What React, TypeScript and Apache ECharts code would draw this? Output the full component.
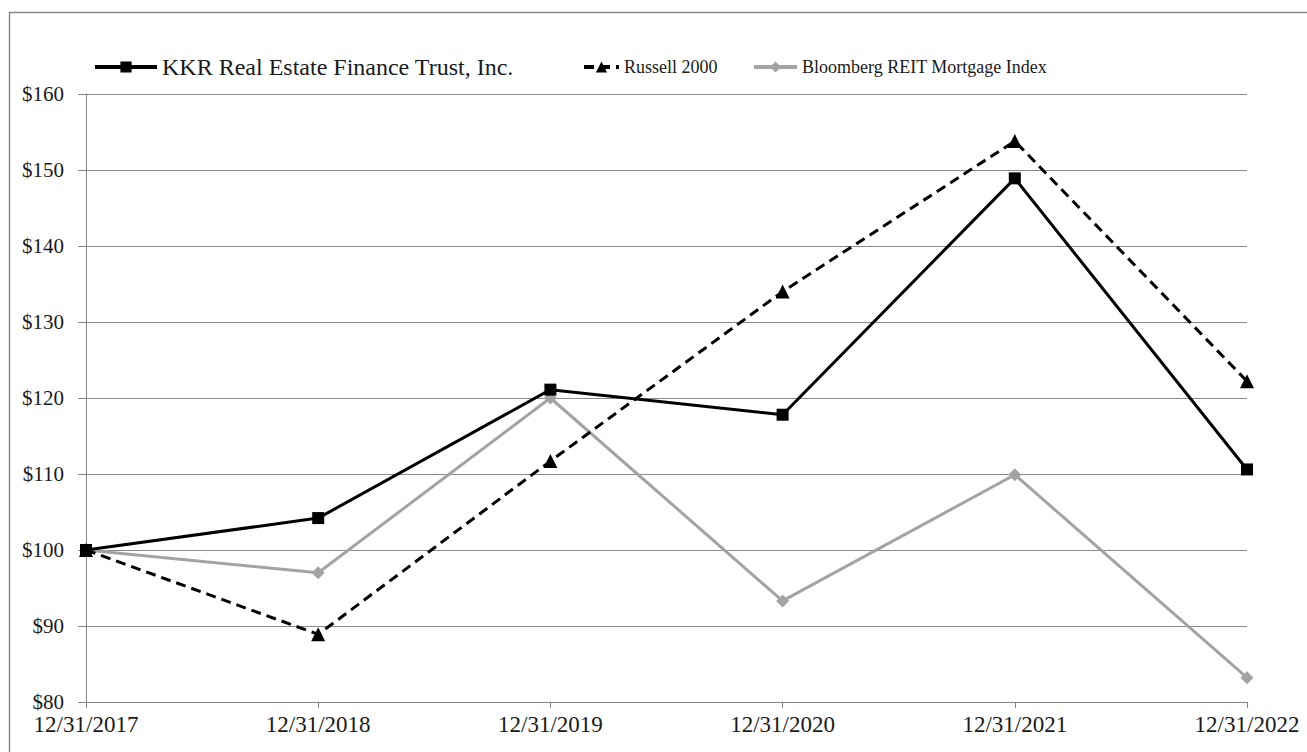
import React, { useEffect, useRef } from "react";
import * as echarts from "echarts";

const categories = ["12/31/2017", "12/31/2018", "12/31/2019", "12/31/2020", "12/31/2021", "12/31/2022"];
const kkrValues = [100, 104.2, 121.1, 117.8, 148.9, 110.6];
const russellValues = [100, 88.9, 111.7, 134.0, 153.8, 122.2];
const bloombergValues = [100, 97.0, 120.0, 93.3, 109.9, 83.2];
const seriesNames = ["KKR Real Estate Finance Trust, Inc.", "Russell 2000", "Bloomberg REIT Mortgage Index"];

const FONT = "Liberation Serif";

export default function App() {
  const ref = useRef<HTMLDivElement>(null);
  useEffect(() => {
    document.body.style.margin = "0";
    const chart = echarts.init(ref.current!, null, { renderer: "svg" });
    chart.setOption({
      animation: false,
      backgroundColor: "#ffffff",
      textStyle: { fontFamily: FONT },
      graphic: [
        {
          type: "rect",
          silent: true,
          shape: { x: 9.5, y: 12.5, width: 1400, height: 900 },
          style: { fill: "none", stroke: "#8a8a8a", lineWidth: 1.5 },
        },
      ],
      legend: [
        {
          data: [seriesNames[0]],
          left: 93,
          top: 55,
          padding: 0,
          itemGap: 0,
          itemWidth: 62,
          itemHeight: 14,
          selectedMode: false,
          lineStyle: { width: 4 },
          textStyle: { fontFamily: FONT, fontSize: 24, color: "#1a1a1a" },
        },
        {
          data: [seriesNames[1]],
          left: 582,
          top: 58,
          padding: 0,
          itemGap: 0,
          itemWidth: 35,
          itemHeight: 14,
          selectedMode: false,
          lineStyle: { width: 4 },
          textStyle: { fontFamily: FONT, fontSize: 18, color: "#1a1a1a" },
        },
        {
          data: [seriesNames[2]],
          left: 752,
          top: 58,
          padding: 0,
          itemGap: 0,
          itemWidth: 43,
          itemHeight: 14,
          selectedMode: false,
          lineStyle: { width: 4 },
          textStyle: { fontFamily: FONT, fontSize: 18, color: "#1a1a1a" },
        },
      ],
      grid: { left: 86, right: 60, top: 94, bottom: 50, containLabel: false },
      xAxis: {
        type: "category",
        data: categories,
        boundaryGap: false,
        axisLine: { lineStyle: { color: "#858585", width: 1 } },
        axisTick: { alignWithLabel: true, length: 6, lineStyle: { color: "#858585" } },
        axisLabel: { fontFamily: FONT, fontSize: 23, lineHeight: 22, color: "#1a1a1a", margin: 11, interval: 0 },
        splitLine: { show: false },
      },
      yAxis: {
        type: "value",
        min: 80,
        max: 160,
        interval: 10,
        axisLine: { show: true, lineStyle: { color: "#858585", width: 1 } },
        axisTick: { show: true, length: 8, lineStyle: { color: "#858585" } },
        axisLabel: {
          fontFamily: FONT,
          fontSize: 21,
          lineHeight: 20,
          color: "#1a1a1a",
          margin: 22,
          formatter: (v: number) => "$" + v,
        },
        splitLine: { show: true, lineStyle: { color: "#8a8a8a", width: 1 } },
      },
      series: [
        {
          name: seriesNames[0],
          type: "line",
          data: kkrValues,
          symbol: "rect",
          symbolSize: 12,
          lineStyle: { color: "#000000", width: 3 },
          itemStyle: { color: "#000000" },
          z: 3,
        },
        {
          name: seriesNames[1],
          type: "line",
          data: russellValues,
          symbol: "triangle",
          symbolSize: 14,
          lineStyle: { color: "#000000", width: 3, type: [10, 6] },
          itemStyle: { color: "#000000" },
          z: 4,
        },
        {
          name: seriesNames[2],
          type: "line",
          data: bloombergValues,
          symbol: "diamond",
          symbolSize: 13,
          lineStyle: { color: "#a3a3a3", width: 3 },
          itemStyle: { color: "#a3a3a3" },
          z: 2,
        },
      ],
    });
    return () => chart.dispose();
  }, []);
  return <div ref={ref} style={{ width: 1307, height: 752 }} />;
}
